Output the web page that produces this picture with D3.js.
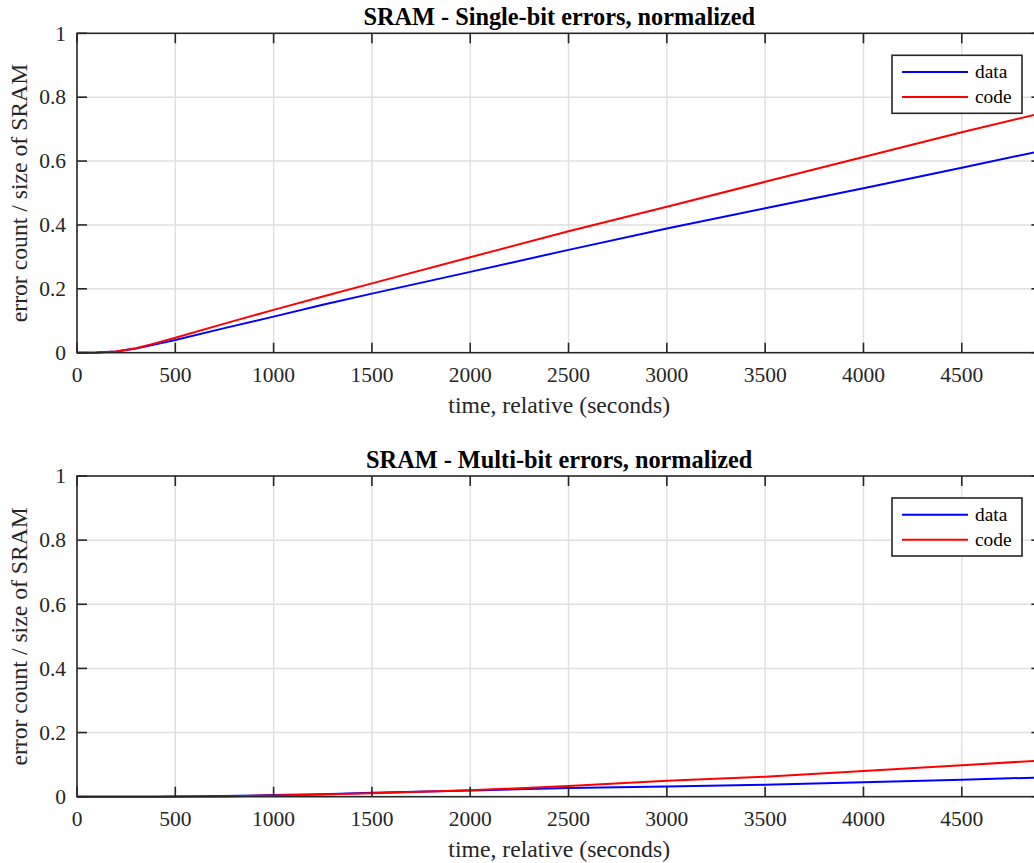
<html>
	<head>
		<style>
			body {
			  margin: 0;
			  background: #fff;
			}

			svg text {
			  font-family: "Liberation Serif", "Times New Roman", serif;
			}

			.grid line {
			  stroke: #e0e0e0;
			  stroke-width: 1.5px;
			}

			.frame {
			  fill: none;
			  stroke: #262626;
			  stroke-width: 1.6px;
			}

			.tick-mark {
			  stroke: #262626;
			  stroke-width: 1.6px;
			}

			.tick-label {
			  font-size: 21.5px;
			  fill: #262626;
			}

			.axis-label {
			  font-size: 23.7px;
			  fill: #262626;
			}

			.title {
			  font-size: 24.3px;
			  font-weight: bold;
			  fill: #000;
			}

			.series {
			  fill: none;
			  stroke-width: 2px;
			}

			.legend rect {
			  fill: #fff;
			  stroke: #262626;
			  stroke-width: 1.6px;
			}

			.legend text {
			  font-size: 19.4px;
			  fill: #000;
			}
		</style>

		<script src="https://cdn.jsdelivr.net/npm/d3@7"></script>
	</head>
	<body>
		<div id="chart">
			<svg></svg>
		</div>
	</body>
	<footer>
		<script>
			var width = 1034;
			var height = 863;

			// time axis (seconds) shared by every series
			var times = [0, 100, 200, 300, 400, 500, 750, 1000, 1250, 1500, 2000, 2500, 3000, 3500, 4000, 4500, 4905];

			// single-bit errors, normalized
			var singleData = [0, 0.0005, 0.004, 0.013, 0.026, 0.040, 0.077, 0.113, 0.150, 0.185, 0.253, 0.322, 0.389, 0.452, 0.515, 0.579, 0.632];
			var singleCode = [0, 0.0005, 0.004, 0.014, 0.030, 0.047, 0.091, 0.134, 0.176, 0.217, 0.299, 0.380, 0.457, 0.535, 0.613, 0.690, 0.750];

			// multi-bit errors, normalized
			var multiData = [0, 0, 0, 0, 0, 0.0008, 0.002, 0.005, 0.008, 0.012, 0.019, 0.027, 0.032, 0.037, 0.045, 0.053, 0.060];
			var multiCode = [0, 0, 0, 0, 0, 0.0003, 0.001, 0.004, 0.007, 0.011, 0.020, 0.033, 0.050, 0.062, 0.080, 0.098, 0.113];

			var xTicks = [0, 500, 1000, 1500, 2000, 2500, 3000, 3500, 4000, 4500];
			var yTicks = [0, 0.2, 0.4, 0.6, 0.8, 1];
			var legendNames = ["data", "code"];
			var legendColors = ["#0000ff", "#ff0000"];

			var panels = [
				{title: "SRAM - Single-bit errors, normalized", top: 33.3, bottom: 352.7, series: [singleData, singleCode]},
				{title: "SRAM - Multi-bit errors, normalized", top: 476, bottom: 796.7, series: [multiData, multiCode]}
			];

			var left = 77;
			var right = 1041.4;
			var tickLength = 10;

			var svg = d3.select("#chart svg")
				.attr("width", width)
				.attr("height", height);

			panels.forEach(drawPanel);

			function drawPanel(panel) {
				var x = d3.scaleLinear().domain([0, 4905]).range([left, right]);
				var y = d3.scaleLinear().domain([0, 1]).range([panel.bottom, panel.top]);
				var g = svg.append("g");

				var grid = g.append("g").attr("class", "grid");
				grid.selectAll(".gx")
					.data(xTicks.slice(1))
					.enter().append("line")
						.attr("x1", x).attr("x2", x)
						.attr("y1", panel.top).attr("y2", panel.bottom);
				grid.selectAll(".gy")
					.data(yTicks.slice(1, -1))
					.enter().append("line")
						.attr("x1", left).attr("x2", right)
						.attr("y1", y).attr("y2", y);

				var line = d3.line()
					.x(function(d, i) { return x(times[i]); })
					.y(function(d) { return y(d); });

				panel.series.forEach(function(values, i) {
					g.append("path")
						.attr("class", "series")
						.attr("stroke", legendColors[i])
						.attr("d", line(values));
				});

				// inward ticks on all four sides
				xTicks.forEach(function(t) {
					g.append("line").attr("class", "tick-mark")
						.attr("x1", x(t)).attr("x2", x(t))
						.attr("y1", panel.bottom).attr("y2", panel.bottom - tickLength);
					g.append("line").attr("class", "tick-mark")
						.attr("x1", x(t)).attr("x2", x(t))
						.attr("y1", panel.top).attr("y2", panel.top + tickLength);
				});
				yTicks.forEach(function(t) {
					g.append("line").attr("class", "tick-mark")
						.attr("x1", left).attr("x2", left + tickLength)
						.attr("y1", y(t)).attr("y2", y(t));
					g.append("line").attr("class", "tick-mark")
						.attr("x1", right).attr("x2", right - tickLength)
						.attr("y1", y(t)).attr("y2", y(t));
				});

				g.append("rect")
					.attr("class", "frame")
					.attr("x", left)
					.attr("y", panel.top)
					.attr("width", right - left)
					.attr("height", panel.bottom - panel.top);

				g.selectAll(".xl")
					.data(xTicks)
					.enter().append("text")
						.attr("class", "tick-label")
						.attr("text-anchor", "middle")
						.attr("x", x)
						.attr("y", panel.bottom + 29)
						.text(function(d) { return d; });

				g.selectAll(".yl")
					.data(yTicks)
					.enter().append("text")
						.attr("class", "tick-label")
						.attr("text-anchor", "end")
						.attr("x", left - 11)
						.attr("y", y)
						.attr("dy", "0.34em")
						.text(function(d) { return d; });

				g.append("text")
					.attr("class", "title")
					.attr("text-anchor", "middle")
					.attr("x", (left + right) / 2)
					.attr("y", panel.top - 8.3)
					.text(panel.title);

				g.append("text")
					.attr("class", "axis-label")
					.attr("text-anchor", "middle")
					.attr("x", (left + right) / 2)
					.attr("y", panel.bottom + 60)
					.text("time, relative (seconds)");

				g.append("text")
					.attr("class", "axis-label")
					.attr("text-anchor", "middle")
					.attr("transform", "translate(27," + (panel.top + panel.bottom) / 2 + ")rotate(-90)")
					.text("error count / size of SRAM");

				var legend = g.append("g")
					.attr("class", "legend")
					.attr("transform", "translate(892," + (panel.top + 22) + ")");
				legend.append("rect")
					.attr("width", 130)
					.attr("height", 58);
				legendNames.forEach(function(name, i) {
					var ly = 16.7 + i * 25;
					legend.append("line")
						.attr("x1", 10).attr("x2", 76)
						.attr("y1", ly).attr("y2", ly)
						.attr("stroke", legendColors[i])
						.attr("stroke-width", 2);
					legend.append("text")
						.attr("x", 83)
						.attr("y", ly)
						.attr("dy", "0.32em")
						.text(name);
				});
			}
		</script>
	</footer>
</html>
